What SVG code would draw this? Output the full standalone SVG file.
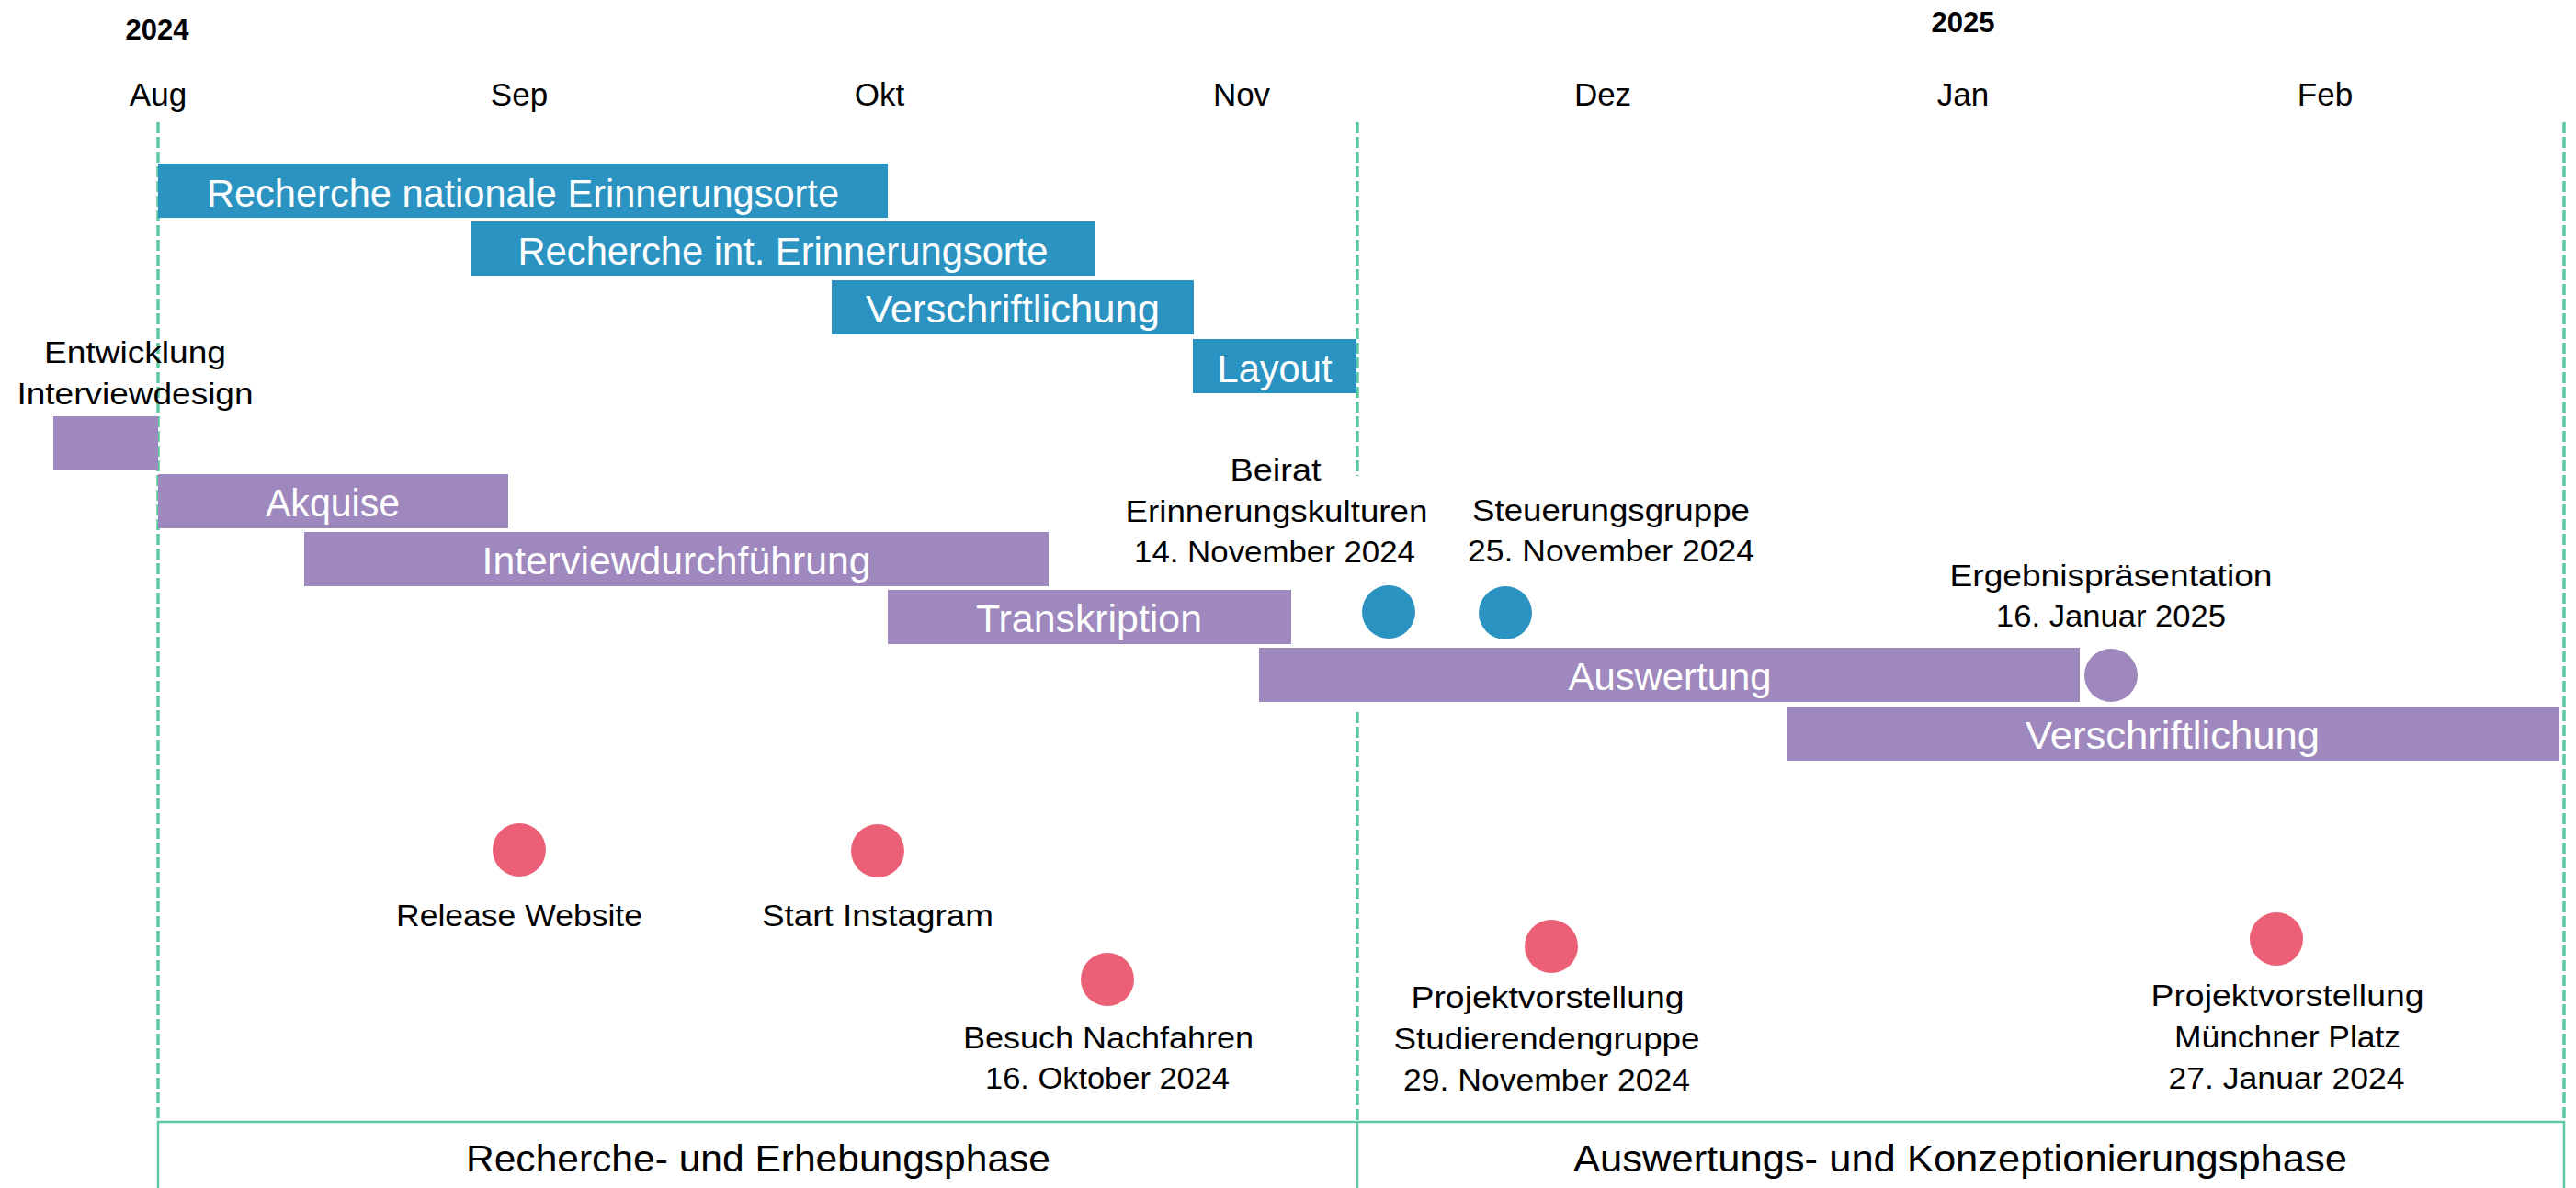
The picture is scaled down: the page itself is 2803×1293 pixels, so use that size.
<svg xmlns="http://www.w3.org/2000/svg" width="2803" height="1293" viewBox="0 0 2803 1293">
<style>
text{font-family:"Liberation Sans",Arial,sans-serif;}
.yr{font-size:31px;font-weight:bold;fill:#000;text-anchor:middle;}
.mo{font-size:35px;fill:#000;text-anchor:middle;}
.bl{font-size:42px;fill:#fff;text-anchor:middle;}
.lb{font-size:34px;fill:#000;text-anchor:middle;}
.ph{font-size:40px;fill:#000;text-anchor:middle;}
.blue{fill:#2B93C1;}
.purple{fill:#9E88BD;}
.pink{fill:#EC6077;}
.guide{stroke:#5CC9A0;stroke-width:3.5;stroke-dasharray:12 4;fill:none;}
.box{stroke:#5CC9A0;stroke-width:2.5;fill:none;}
</style>
<rect width="2803" height="1293" fill="#fff"/>
<g id="axis">
<text class="yr" x="171" y="43">2024</text>
<text class="yr" x="2136" y="35">2025</text>
<text class="mo" x="172" y="115">Aug</text>
<text class="mo" x="565" y="115">Sep</text>
<text class="mo" x="957" y="115">Okt</text>
<text class="mo" x="1351" y="115">Nov</text>
<text class="mo" x="1744" y="115">Dez</text>
<text class="mo" x="2136" y="115">Jan</text>
<text class="mo" x="2530" y="115">Feb</text>
</g>
<g id="connectors">
<line class="guide" x1="172" y1="133" x2="172" y2="1220"/>
<line class="guide" x1="1477" y1="133" x2="1477" y2="518"/>
<line class="guide" x1="1477" y1="775" x2="1477" y2="1220"/>
<line class="guide" x1="2790" y1="133" x2="2790" y2="1220"/>
<path class="box" d="M172,1293 V1221 H2790 V1293"/>
<line class="box" x1="1477" y1="1221" x2="1477" y2="1293"/>
</g>
<g id="bar-recherche-national">
<rect class="blue" x="172" y="178" width="794" height="59"/>
<text class="bl" x="569" y="225" textLength="688" lengthAdjust="spacingAndGlyphs">Recherche nationale Erinnerungsorte</text>
</g>
<g id="bar-recherche-int">
<rect class="blue" x="512" y="241" width="680" height="59"/>
<text class="bl" x="852" y="288" textLength="577" lengthAdjust="spacingAndGlyphs">Recherche int. Erinnerungsorte</text>
</g>
<g id="bar-verschriftlichung-1">
<rect class="blue" x="905" y="305" width="394" height="59"/>
<text class="bl" x="1102" y="351" textLength="320" lengthAdjust="spacingAndGlyphs">Verschriftlichung</text>
</g>
<g id="bar-layout">
<rect class="blue" x="1298" y="369" width="178" height="59"/>
<text class="bl" x="1387" y="416" textLength="125" lengthAdjust="spacingAndGlyphs">Layout</text>
</g>
<g id="bar-entwicklung">
<rect class="purple" x="58" y="453" width="114" height="59"/>
<text class="lb" x="147" y="395" textLength="198" lengthAdjust="spacingAndGlyphs">Entwicklung</text>
<text class="lb" x="147" y="440" textLength="257" lengthAdjust="spacingAndGlyphs">Interviewdesign</text>
</g>
<g id="bar-akquise">
<rect class="purple" x="172" y="516" width="381" height="59"/>
<text class="bl" x="362" y="562" textLength="146" lengthAdjust="spacingAndGlyphs">Akquise</text>
</g>
<g id="bar-interview">
<rect class="purple" x="331" y="579" width="810" height="59"/>
<text class="bl" x="736" y="625" textLength="423" lengthAdjust="spacingAndGlyphs">Interviewdurchführung</text>
</g>
<g id="bar-transkription">
<rect class="purple" x="966" y="642" width="439" height="59"/>
<text class="bl" x="1185" y="688" textLength="246" lengthAdjust="spacingAndGlyphs">Transkription</text>
</g>
<g id="bar-auswertung">
<rect class="purple" x="1370" y="705" width="893" height="59"/>
<text class="bl" x="1817" y="751" textLength="221" lengthAdjust="spacingAndGlyphs">Auswertung</text>
</g>
<g id="bar-verschriftlichung-2">
<rect class="purple" x="1944" y="769" width="840" height="59"/>
<text class="bl" x="2364" y="815" textLength="320" lengthAdjust="spacingAndGlyphs">Verschriftlichung</text>
</g>
<g id="ms-beirat">
<circle class="blue" cx="1511" cy="666" r="29"/>
<text class="lb" x="1388" y="523" textLength="99" lengthAdjust="spacingAndGlyphs">Beirat</text>
<text class="lb" x="1389" y="568" textLength="329" lengthAdjust="spacingAndGlyphs">Erinnerungskulturen</text>
<text class="lb" x="1387" y="612" textLength="306" lengthAdjust="spacingAndGlyphs">14. November 2024</text>
</g>
<g id="ms-steuerung">
<circle class="blue" cx="1638" cy="667" r="29"/>
<text class="lb" x="1753" y="567" textLength="302" lengthAdjust="spacingAndGlyphs">Steuerungsgruppe</text>
<text class="lb" x="1753" y="611" textLength="312" lengthAdjust="spacingAndGlyphs">25. November 2024</text>
</g>
<g id="ms-ergebnis">
<circle class="purple" cx="2297" cy="735" r="29"/>
<text class="lb" x="2297" y="638" textLength="351" lengthAdjust="spacingAndGlyphs">Ergebnispräsentation</text>
<text class="lb" x="2297" y="682" textLength="250" lengthAdjust="spacingAndGlyphs">16. Januar 2025</text>
</g>
<g id="ms-website">
<circle class="pink" cx="565" cy="925" r="29"/>
<text class="lb" x="565" y="1008" textLength="268" lengthAdjust="spacingAndGlyphs">Release Website</text>
</g>
<g id="ms-instagram">
<circle class="pink" cx="955" cy="926" r="29"/>
<text class="lb" x="955" y="1008" textLength="252" lengthAdjust="spacingAndGlyphs">Start Instagram</text>
</g>
<g id="ms-nachfahren">
<circle class="pink" cx="1205" cy="1066" r="29"/>
<text class="lb" x="1206" y="1141" textLength="316" lengthAdjust="spacingAndGlyphs">Besuch Nachfahren</text>
<text class="lb" x="1205" y="1185" textLength="266" lengthAdjust="spacingAndGlyphs">16. Oktober 2024</text>
</g>
<g id="ms-studierende">
<circle class="pink" cx="1688" cy="1030" r="29"/>
<text class="lb" x="1684" y="1097" textLength="297" lengthAdjust="spacingAndGlyphs">Projektvorstellung</text>
<text class="lb" x="1683" y="1142" textLength="333" lengthAdjust="spacingAndGlyphs">Studierendengruppe</text>
<text class="lb" x="1683" y="1187" textLength="312" lengthAdjust="spacingAndGlyphs">29. November 2024</text>
</g>
<g id="ms-muenchner">
<circle class="pink" cx="2477" cy="1022" r="29"/>
<text class="lb" x="2489" y="1095" textLength="297" lengthAdjust="spacingAndGlyphs">Projektvorstellung</text>
<text class="lb" x="2489" y="1140" textLength="246" lengthAdjust="spacingAndGlyphs">Münchner Platz</text>
<text class="lb" x="2488" y="1185" textLength="257" lengthAdjust="spacingAndGlyphs">27. Januar 2024</text>
</g>
<g id="phase-1">
<text class="ph" x="825" y="1275" textLength="636" lengthAdjust="spacingAndGlyphs">Recherche- und Erhebungsphase</text>
</g>
<g id="phase-2">
<text class="ph" x="2133" y="1275" textLength="842" lengthAdjust="spacingAndGlyphs">Auswertungs- und Konzeptionierungsphase</text>
</g>
</svg>
